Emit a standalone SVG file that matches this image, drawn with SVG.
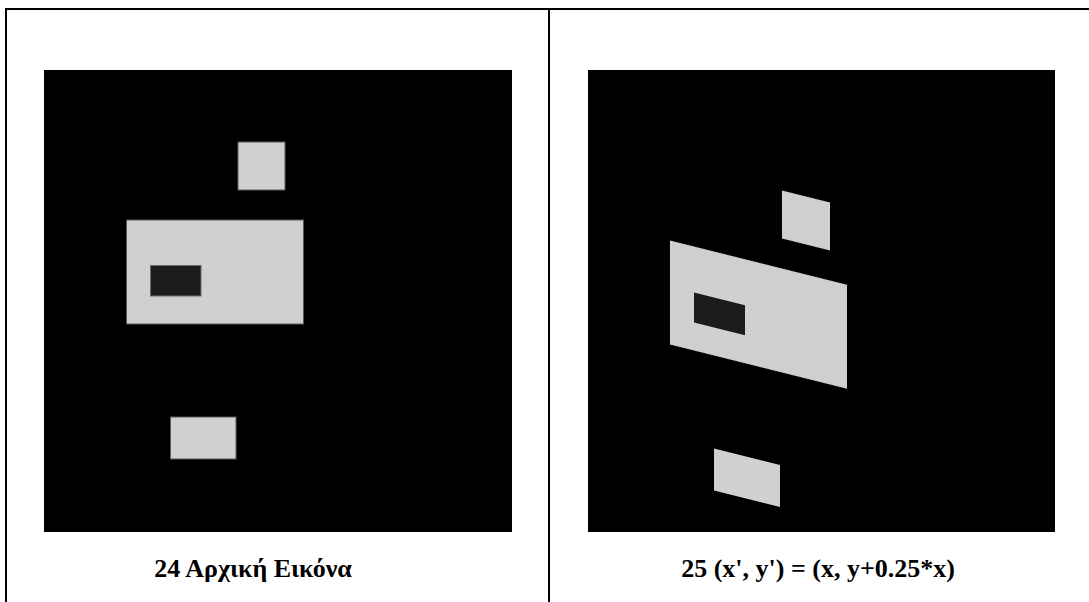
<svg xmlns="http://www.w3.org/2000/svg" width="1089" height="602" viewBox="0 0 1089 602">
  <style>
    .frame { stroke: #000; stroke-width: 2; fill: none; }
    .img { fill: #000; }
    .light { fill: #d0d0d0; }
    .lightb { fill: #d0d0d0; stroke: #5a5a5a; stroke-width: 1; }
    .dark { fill: #1c1c1c; }
    .darkb { fill: #1c1c1c; stroke: #6a6a6a; stroke-width: 1; }
    .cap { font-family: "Liberation Serif", "Times New Roman", serif; font-weight: bold; font-size: 26px; fill: #000; text-anchor: middle; }
  </style>
  <rect x="0" y="0" width="1089" height="602" fill="#ffffff"/>
  <g id="frame">
    <line class="frame" x1="5" y1="9" x2="1089" y2="9"/>
    <line class="frame" x1="6" y1="8" x2="6" y2="602"/>
    <line class="frame" x1="549" y1="8" x2="549" y2="602"/>
  </g>
  <g id="original-image">
    <rect class="img" x="44" y="70" width="468" height="462"/>
    <rect class="lightb" x="238" y="142" width="47" height="48"/>
    <rect class="lightb" x="126.5" y="220" width="177" height="104"/>
    <rect class="darkb" x="150.5" y="265.5" width="50.5" height="30.5"/>
    <rect class="lightb" x="170.5" y="417" width="65.5" height="42"/>
  </g>
  <g id="sheared-image">
    <rect class="img" x="588" y="70" width="467" height="462"/>
    <polygon class="light" points="782,190.5 830,202.5 830,250.5 782,238.5"/>
    <polygon class="light" points="670,240.5 847,284.75 847,388.75 670,344.5"/>
    <polygon class="dark" points="694,292.5 745,305.25 745,335.25 694,322.5"/>
    <polygon class="light" points="714,448.5 780,465 780,507 714,490.5"/>
  </g>
  <g id="captions">
    <text class="cap" x="253" y="577">24 Αρχική Εικόνα</text>
    <text class="cap" x="818" y="577">25 (x', y') = (x, y+0.25*x)</text>
  </g>
</svg>
